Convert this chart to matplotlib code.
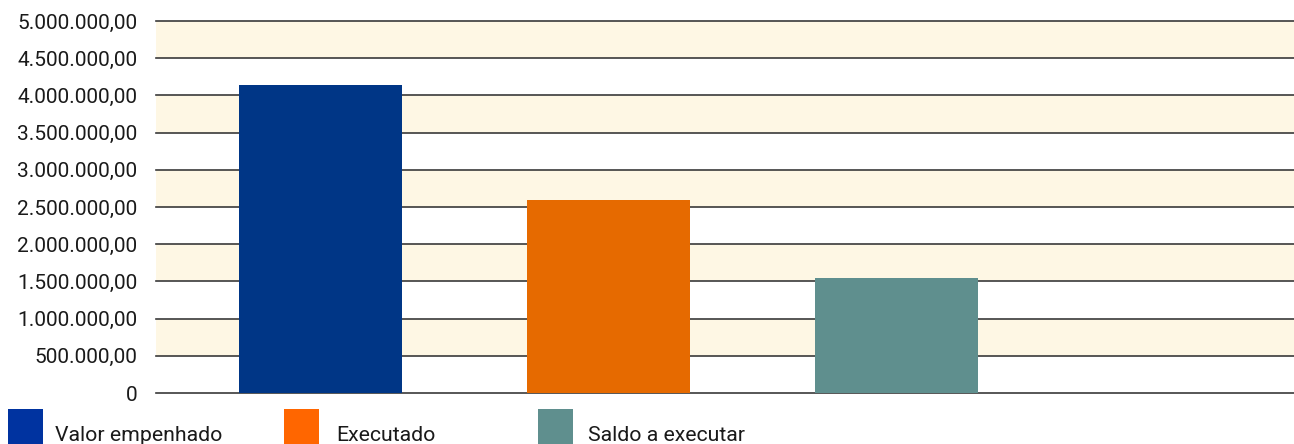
import matplotlib
matplotlib.use("Agg")
import matplotlib.pyplot as plt
from matplotlib.patches import Rectangle
from matplotlib.ticker import FuncFormatter

categories = ["Valor empenhado", "Executado", "Saldo a executar"]
values = [4140000, 2594000, 1546000]
y_ticks = [0, 500000, 1000000, 1500000, 2000000, 2500000,
           3000000, 3500000, 4000000, 4500000, 5000000]

bar_colors = ["#003686", "#E66A00", "#5F8F8E"]
legend_colors = ["#0033A0", "#FF6600", "#5F8F8E"]
band_color = "#FEF7E4"
grid_color = "#3a3a3a"

plt.rcParams["font.family"] = ["Roboto", "DejaVu Sans"]

W, H = 1294, 444
fig = plt.figure(figsize=(W / 100, H / 100), dpi=100)
ax = fig.add_axes([156 / W, (H - 393) / H, 1138 / W, 372 / H])

# alternating shaded bands between gridlines
for lo, hi in zip(y_ticks[1::2], y_ticks[2::2]):
    ax.axhspan(lo, hi, color=band_color, lw=0, zorder=0)
for t in y_ticks:
    ax.axhline(t, color=grid_color, lw=1.2, zorder=1, clip_on=False)

x = list(range(len(categories)))
ax.bar(x, values, width=0.566, color=bar_colors, zorder=2)

ax.set_xlim(-0.571, 3.380)
ax.set_ylim(0, 5000000)
ax.set_yticks(y_ticks)


def fmt(v, _pos):
    if v == 0:
        return "0"
    s = f"{v:,.2f}"
    return s.replace(",", "X").replace(".", ",").replace("X", ".")


ax.yaxis.set_major_formatter(FuncFormatter(fmt))
ax.tick_params(axis="y", length=0, pad=13.5, labelsize=15, labelcolor="#1a1a1a")
ax.set_xticks([])
for s in ax.spines.values():
    s.set_visible(False)

# legend entries along the bottom edge
legend_x = [8, 284, 538]
text_x = [55, 336, 588]
for lx, tx, c, name in zip(legend_x, text_x, legend_colors, categories):
    fig.patches.append(Rectangle((lx / W, -0.05), 35 / W, (H - 409) / H + 0.05,
                                 transform=fig.transFigure, color=c, lw=0))
    fig.text(tx / W, (H - 441) / H, name, fontsize=15.3, color="#1a1a1a",
             ha="left", va="baseline")

fig.savefig("out.png", dpi=100)
